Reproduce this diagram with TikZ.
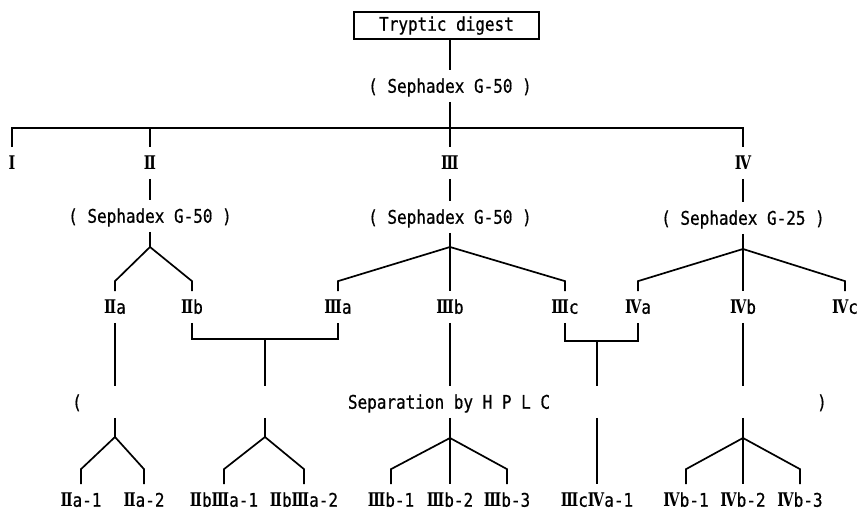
\documentclass[tikz,border=0pt]{standalone}
\usepackage{fontspec}
\newfontfamily\monof{DejaVu Sans Mono}[FakeStretch=0.85,FakeBold=0.6]
\newfontfamily\romf{DejaVu Serif Condensed}[FakeStretch=0.85]
\newcommand\RN[1]{{\romf\bfseries #1}}
\begin{document}
\begin{tikzpicture}[x=1pt,y=-1pt, line width=1.7pt,
  every node/.style={font=\monof\fontsize{18.8}{20}\selectfont, inner sep=0pt},
  lab/.style={minimum height=30pt, text height=13.5pt, text depth=0pt},
  digbox/.style={draw, line width=1.7pt, minimum width=185pt, minimum height=27pt, text height=13.5pt, text depth=3pt}]
\fill[white] (0,0) rectangle (860,510);
\useasboundingbox (0,0) rectangle (860,510);

% top
\node[digbox] (dig) at (446.5,25.5) {Tryptic digest};
\node[lab] (s0) at (450,86) {( Sephadex G-50 )};
\coordinate (b0) at (450,128);
\node[lab] (n1) at (12,163) {\RN{Ⅰ}};
\node[lab] (n2) at (150,163) {\RN{Ⅱ}};
\node[lab] (n3) at (450,163) {\RN{Ⅲ}};
\node[lab] (n4) at (743,163) {\RN{Ⅳ}};
\draw (s0.north |- dig.south) -- (s0.north);
\draw (s0.south) -- (b0);
\draw (n1.north) -- (n1.north |- b0) -- (n4.north |- b0) -- (n4.north);
\draw (b0) -- (n3.north);
\draw (n2.north |- b0) -- (n2.north);

% second level
\node[lab] (s2) at (150,216) {( Sephadex G-50 )};
\node[lab] (s3) at (450,217) {( Sephadex G-50 )};
\node[lab] (s4) at (743,218) {( Sephadex G-25 )};
\draw (n2.south) -- (s2.north);
\draw (n3.south) -- (s3.north);
\draw (n4.south) -- (s4.north);
\coordinate (j2) at (150,247);
\coordinate (j3) at (450,247);
\coordinate (j4) at (743,249);
\draw (s2.south) -- (j2);
\draw (s3.south) -- (j3);
\draw (s4.south) -- (j4);

\node[lab] (a2) at (115,307) {\RN{Ⅱ}a};
\node[lab] (b2) at (192,307) {\RN{Ⅱ}b};
\node[lab] (a3) at (338,307) {\RN{Ⅲ}a};
\node[lab] (b3) at (450,307) {\RN{Ⅲ}b};
\node[lab] (c3) at (565,307) {\RN{Ⅲ}c};
\node[lab] (a4) at (638,307) {\RN{Ⅳ}a};
\node[lab] (b4) at (743,307) {\RN{Ⅳ}b};
\node[lab] (c4) at (845,307) {\RN{Ⅳ}c};
\draw (j2) -- ([yshift=10pt]a2.north) -- (a2.north);
\draw (j2) -- ([yshift=10pt]b2.north) -- (b2.north);
\draw (j3) -- ([yshift=10pt]a3.north) -- (a3.north);
\draw (j3) -- (b3.north);
\draw (j3) -- ([yshift=10pt]c3.north) -- (c3.north);
\draw (j4) -- ([yshift=10pt]a4.north) -- (a4.north);
\draw (j4) -- (b4.north);
\draw (j4) -- ([yshift=10pt]c4.north) -- (c4.north);

% HPLC row
\node[lab] (hp) at (449,402) {Separation by H P L C};
\node[lab] (lp) at (77,402) {(};
\node[lab] (rp) at (822,402) {)};

\coordinate (k1) at (265,339);
\coordinate (k2) at (597,341);
\draw (b2.south) |- (k1) -| (a3.south);
\draw (c3.south) |- (k2) -| (a4.south);
\draw (a2.south) -- (a2.south |- hp.north);
\draw (k1) -- (k1 |- hp.north);
\draw (b3.south) -- (b3.south |- hp.north);
\draw (k2) -- (k2 |- hp.north);
\draw (b4.south) -- (b4.south |- hp.north);

% bottom
\coordinate (q1) at (115,437);
\coordinate (q2) at (265,437);
\coordinate (q3) at (450,438);
\coordinate (q4) at (743,438);
\node[lab] (o1) at (81,500) {\RN{Ⅱ}a-1};
\node[lab] (o2) at (144,500) {\RN{Ⅱ}a-2};
\node[lab] (o3) at (224,500) {\RN{Ⅱ}b\RN{Ⅲ}a-1};
\node[lab] (o4) at (304,500) {\RN{Ⅱ}b\RN{Ⅲ}a-2};
\node[lab] (o6) at (391,500) {\RN{Ⅲ}b-1};
\node[lab] (o7) at (450,500) {\RN{Ⅲ}b-2};
\node[lab] (o8) at (507,500) {\RN{Ⅲ}b-3};
\node[lab] (o5) at (597,500) {\RN{Ⅲ}c\RN{Ⅳ}a-1};
\node[lab] (o9) at (686,500) {\RN{Ⅳ}b-1};
\node[lab] (o10) at (743,500) {\RN{Ⅳ}b-2};
\node[lab] (o11) at (800,500) {\RN{Ⅳ}b-3};

\draw (a2.south |- hp.south) -- (q1);
\draw (k1 |- hp.south) -- (q2);
\draw (b3.south |- hp.south) -- (q3);
\draw (k2 |- hp.south) -- (o5.north);
\draw (b4.south |- hp.south) -- (q4);

\draw (q1) -- ([yshift=15pt]o1.north) -- (o1.north);
\draw (q1) -- ([yshift=15pt]o2.north) -- (o2.north);
\draw (q2) -- ([yshift=15pt]o3.north) -- (o3.north);
\draw (q2) -- ([yshift=15pt]o4.north) -- (o4.north);
\draw (q3) -- ([yshift=15pt]o6.north) -- (o6.north);
\draw (q3) -- (o7.north);
\draw (q3) -- ([yshift=15pt]o8.north) -- (o8.north);
\draw (q4) -- ([yshift=15pt]o9.north) -- (o9.north);
\draw (q4) -- (o10.north);
\draw (q4) -- ([yshift=15pt]o11.north) -- (o11.north);
\end{tikzpicture}
\end{document}
